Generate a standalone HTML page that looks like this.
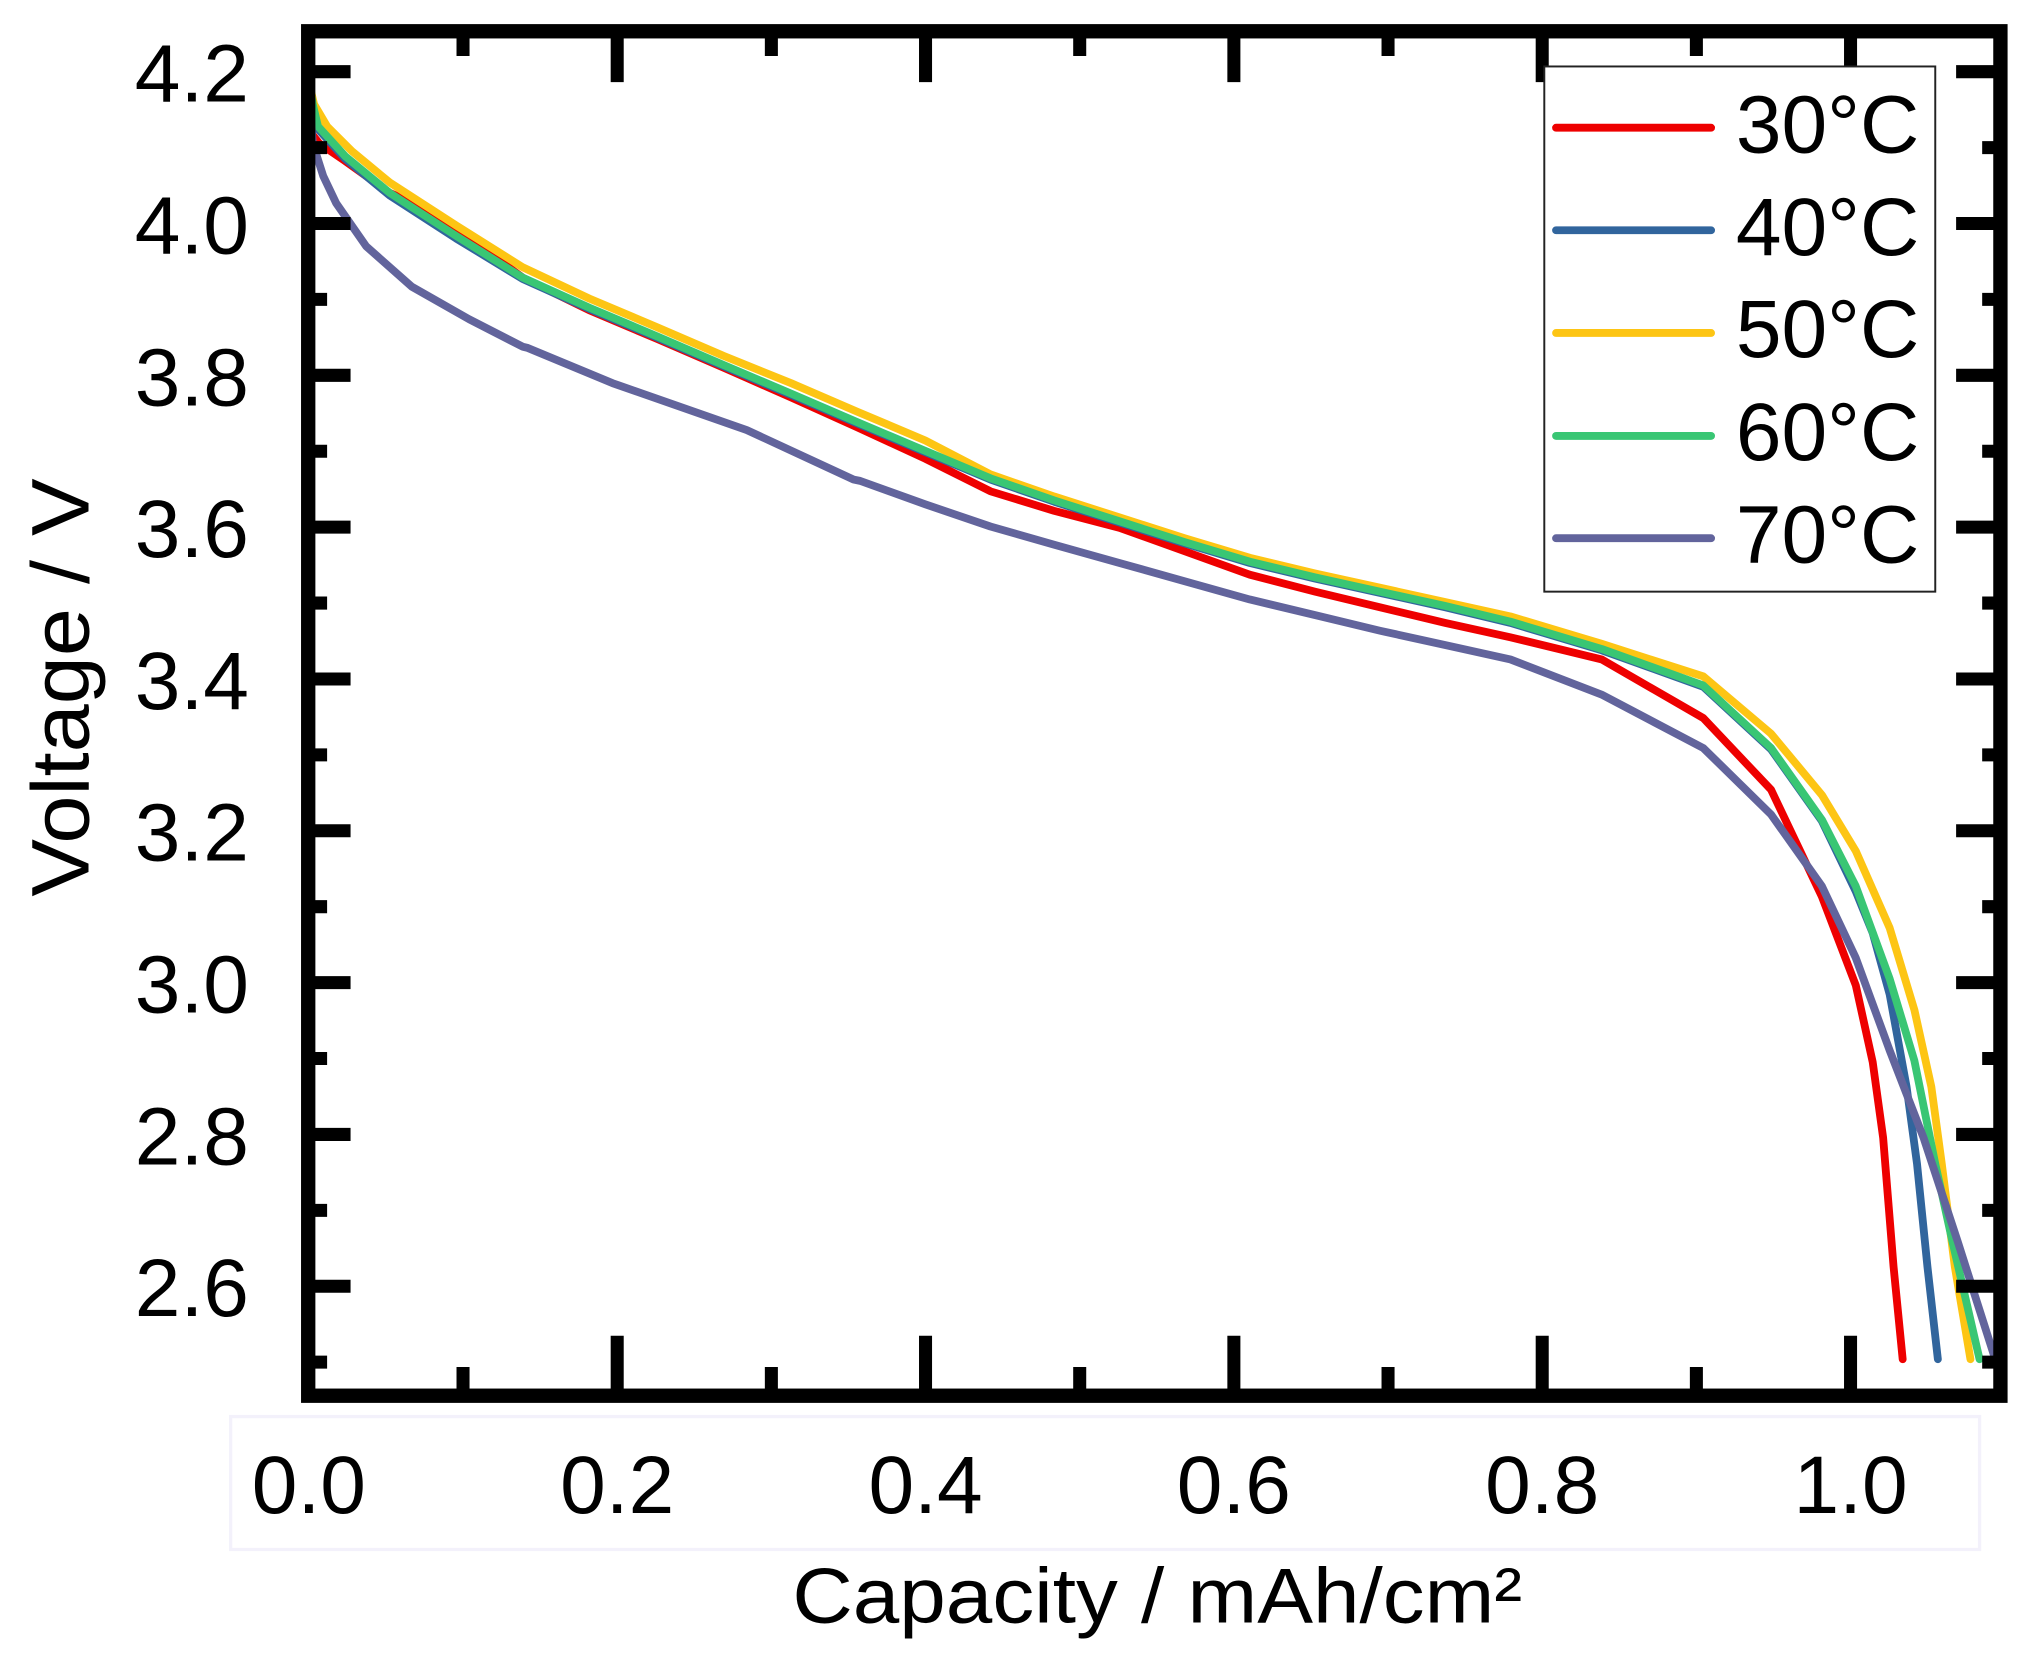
<!DOCTYPE html>
<html><head><meta charset="utf-8"><style>
html,body{margin:0;padding:0;background:#fff;}
svg{display:block;}
text{font-family:"Liberation Sans",Arial,sans-serif;fill:#000;}
</style></head><body>
<svg width="2033" height="1666" viewBox="0 0 1560 1278.4" preserveAspectRatio="none" xmlns="http://www.w3.org/2000/svg">
<rect x="0" y="0" width="1560" height="1278.4" fill="#fff"/>
<!-- faint box behind x tick labels -->
<rect x="177" y="1087" width="1342" height="102" fill="none" stroke="#f3f1fb" stroke-width="2.5"/>

<!-- curves -->
<g fill="none" stroke-width="6" stroke-linecap="round" stroke-linejoin="round">
<polyline stroke="#ee0000" points="237,100 245,110 264,123 299,148 333,163 401,213 452,238 504,260 555,282 607,305 658,328 710,352 760,377 809,392 859,405 909,423 959,441 1009,454 1059,466 1109,478 1159,489 1229,506 1307,551 1359,606 1398,688 1424,756 1437,815 1445,873 1453,972 1460,1043"/>
<polyline stroke="#31659d" points="237,75 240,82 244,99 265,122 299,150 350,183 401,214 452,237 504,259 555,281 607,303 658,325 710,347 760,368 809,385 859,401 909,417 959,432 1009,444 1059,455 1109,466 1159,478 1229,499 1307,527 1359,575 1398,630 1424,684 1437,716 1450,763 1463,834 1471,893 1479,972 1487,1043"/>
<polyline stroke="#fdc514" points="237,63 241,80 251,97 270,116 299,140 350,173 401,205 452,229 504,251 555,273 607,294 658,316 710,338 760,364 809,381 859,397 909,413 959,428 1009,440 1059,451 1109,462 1159,473 1229,494 1307,519 1359,563 1398,610 1424,653 1450,712 1469,775 1482,834 1490,893 1500,972 1512,1043"/>
<polyline stroke="#39c674" points="237,62 240,80 244,97 265,120 299,148 350,181 401,213 452,236 504,258 555,280 607,302 658,324 710,346 760,367 809,384 859,400 909,416 959,431 1009,443 1059,454 1109,465 1159,477 1229,498 1307,526 1359,574 1398,629 1424,680 1450,751 1469,814 1485,893 1498,952 1519,1043"/>
<polyline stroke="#62649c" points="237,69 240,110 248,135 258,156 281,189 316,220 360,245 401,266 405,267 470,294 573,330 655,368 660,369 710,387 760,404 809,418 859,432 909,446 959,460 1009,472 1059,484 1109,495 1159,506 1229,533 1307,574 1359,625 1398,680 1424,735 1450,806 1476,873 1502,952 1531,1043"/>
</g>

<!-- axes frame -->
<rect x="236.5" y="24" width="1298.5" height="1047" fill="none" stroke="#000" stroke-width="11"/>

<!-- ticks -->
<g stroke="#000" stroke-width="10">
<!-- y major -->
<path d="M237 55H269M237 171.5H269M237 288H269M237 404.5H269M237 521H269M237 637.5H269M237 754H269M237 870.5H269M237 987H269"/>
<path d="M1535 55H1501M1535 171.5H1501M1535 288H1501M1535 404.5H1501M1535 521H1501M1535 637.5H1501M1535 754H1501M1535 870.5H1501M1535 987H1501"/>
<!-- y minor -->
<path d="M237 113.25H251M237 229.75H251M237 346.25H251M237 462.75H251M237 579.25H251M237 695.75H251M237 812.25H251M237 928.75H251M237 1045.25H251"/>
<path d="M1535 113.25H1521M1535 229.75H1521M1535 346.25H1521M1535 462.75H1521M1535 579.25H1521M1535 695.75H1521M1535 812.25H1521M1535 928.75H1521M1535 1045.25H1521"/>
<!-- x major -->
<path d="M473.6 1071V1025M710.2 1071V1025M946.8 1071V1025M1183.4 1071V1025M1420 1071V1025"/>
<path d="M473.6 24V63M710.2 24V63M946.8 24V63M1183.4 24V63M1420 24V63"/>
<!-- x minor -->
<path d="M355.3 1071V1049M591.9 1071V1049M828.5 1071V1049M1065.1 1071V1049M1301.7 1071V1049"/>
<path d="M355.3 24V43M591.9 24V43M828.5 24V43M1065.1 24V43M1301.7 24V43"/>
</g>

<!-- y tick labels -->
<g font-size="63" text-anchor="end">
<text x="191" y="78">4.2</text>
<text x="191" y="194.5">4.0</text>
<text x="191" y="311">3.8</text>
<text x="191" y="427.5">3.6</text>
<text x="191" y="544">3.4</text>
<text x="191" y="660.5">3.2</text>
<text x="191" y="777">3.0</text>
<text x="191" y="893.5">2.8</text>
<text x="191" y="1010">2.6</text>
</g>
<!-- x tick labels -->
<g font-size="63" text-anchor="middle">
<text x="237" y="1161">0.0</text>
<text x="473.6" y="1161">0.2</text>
<text x="710.2" y="1161">0.4</text>
<text x="946.8" y="1161">0.6</text>
<text x="1183.4" y="1161">0.8</text>
<text x="1420" y="1161">1.0</text>
</g>

<!-- axis titles -->
<text x="608" y="1245" font-size="60" textLength="560" lengthAdjust="spacingAndGlyphs">Capacity / mAh/cm²</text>
<text transform="translate(68,688) rotate(-90)" font-size="63" textLength="321" lengthAdjust="spacingAndGlyphs">Voltage / V</text>

<!-- legend -->
<rect x="1185" y="51" width="300" height="403" fill="#fff" stroke="#222" stroke-width="1.5"/>
<g stroke-width="6" stroke-linecap="round">
<line x1="1194" y1="98" x2="1313" y2="98" stroke="#ee0000"/>
<line x1="1194" y1="176.7" x2="1313" y2="176.7" stroke="#31659d"/>
<line x1="1194" y1="255.5" x2="1313" y2="255.5" stroke="#fdc514"/>
<line x1="1194" y1="334.5" x2="1313" y2="334.5" stroke="#39c674"/>
<line x1="1194" y1="413" x2="1313" y2="413" stroke="#62649c"/>
</g>
<g font-size="63">
<text x="1332" y="117">30°C</text>
<text x="1332" y="195.5">40°C</text>
<text x="1332" y="274">50°C</text>
<text x="1332" y="353">60°C</text>
<text x="1332" y="431.5">70°C</text>
</g>
</svg>
</body></html>
